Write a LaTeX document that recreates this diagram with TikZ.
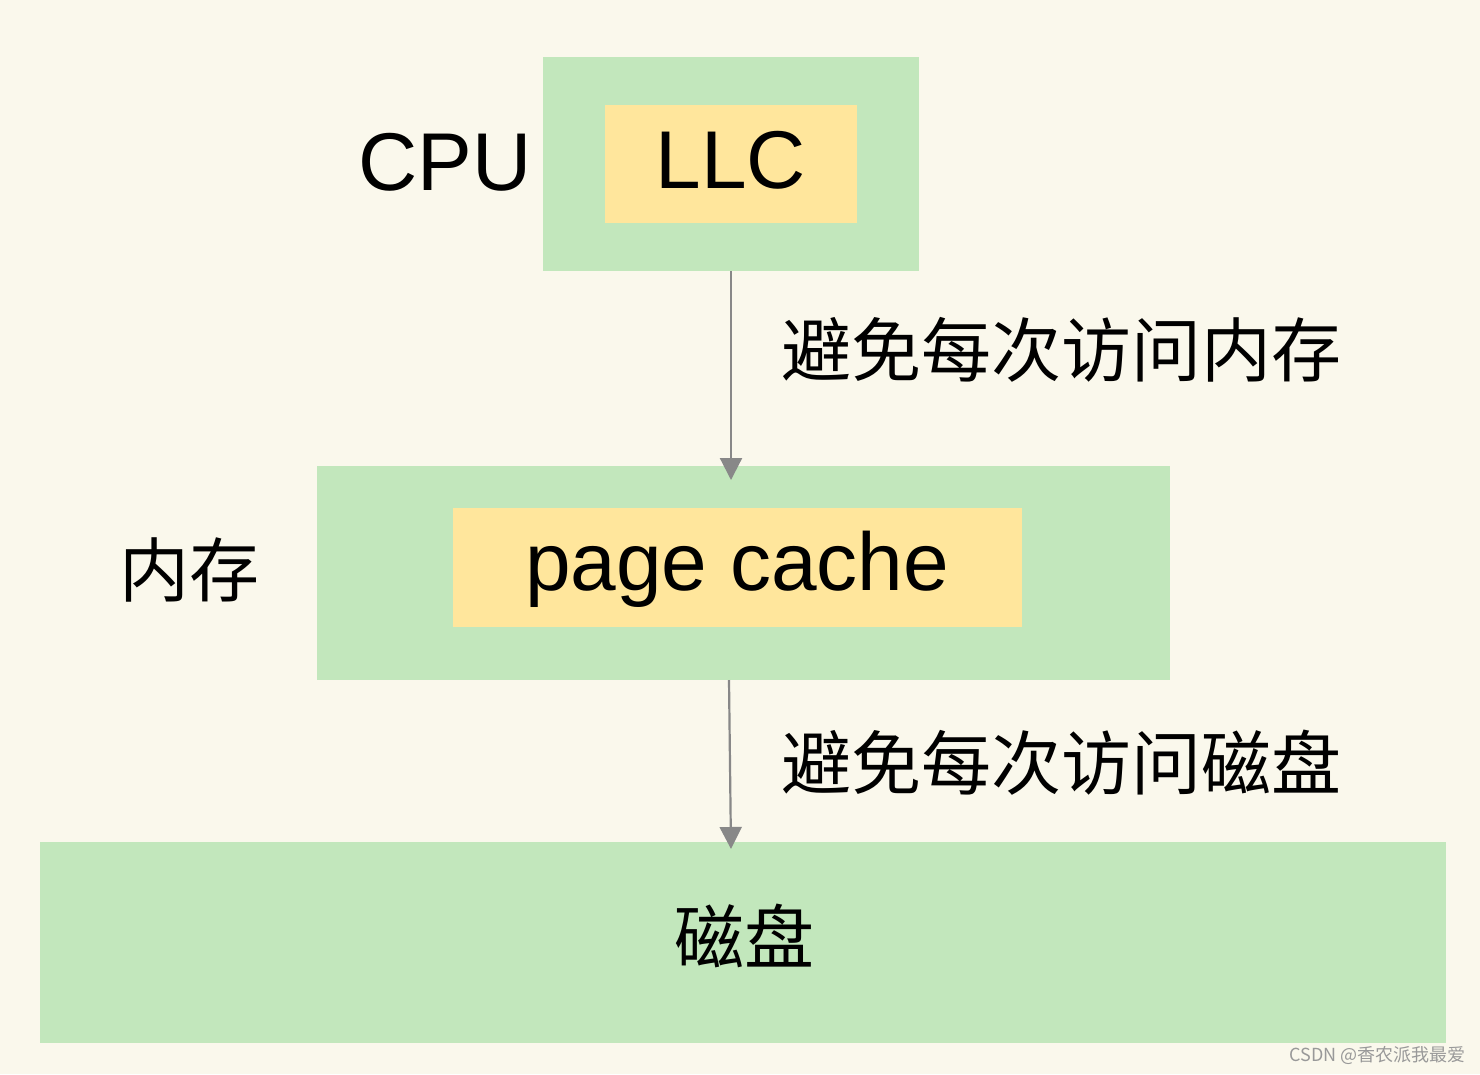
\documentclass[tikz,border=0pt]{standalone}
\usepackage{fontspec}
\setmainfont{Liberation Sans}
\newfontfamily\cjk{Noto Sans CJK SC}
\usetikzlibrary{arrows.meta}
\definecolor{bg}{HTML}{FAF8EC}
\definecolor{gr}{HTML}{C2E7BC}
\definecolor{ye}{HTML}{FFE69C}
\definecolor{ar}{HTML}{888888}
\begin{document}
\begin{tikzpicture}[x=1pt,y=-1pt,
  box/.style={fill=gr,draw=none},
  inner/.style={fill=ye,draw=none},
  arr/.style={draw=ar,line width=2.2pt,-{Triangle[length=22pt,width=22pt]}},
  big/.style={font=\fontsize{82}{90}\selectfont,inner sep=0},
  cn/.style={font=\cjk\fontsize{70}{80}\selectfont,inner sep=0}]
\fill[bg] (0,0) rectangle (1480,1074);
\useasboundingbox (0,0) rectangle (1480,1074);
\path[box] (543,57) rectangle (919,271);
\path[inner] (605,105) rectangle (857,223);
\path[box] (317,466) rectangle (1170,680);
\path[inner] (453,508) rectangle (1022,627);
\path[box] (40,842) rectangle (1446,1043);
\node[big] (cpu) at (445,162) {CPU};
\node[big] (llc) at (731,160) {LLC};
\node[big,anchor=base] (pc) at (737,590) {page cache};
\node[cn] (mem) at (189,570) {内存};
\node[cn] (disk) at (744,936) {磁盘};
\node[cn,anchor=west] (l1) at (781,350) {避免每次访问内存};
\node[cn,anchor=west] (l2) at (781,763) {避免每次访问磁盘};
\coordinate (a1) at (731,271);
\coordinate (b1) at (731,480);
\coordinate (a2) at (729,680);
\coordinate (b2) at (731,849);
\draw[arr] (a1) -- (b1);
\draw[arr] (a2) -- (b2);
\node[anchor=east,text=gray!80,font=\cjk\fontsize{18}{20}\selectfont,inner sep=0] (wm) at (1466,1055) {CSDN @香农派我最爱};
\end{tikzpicture}
\end{document}
